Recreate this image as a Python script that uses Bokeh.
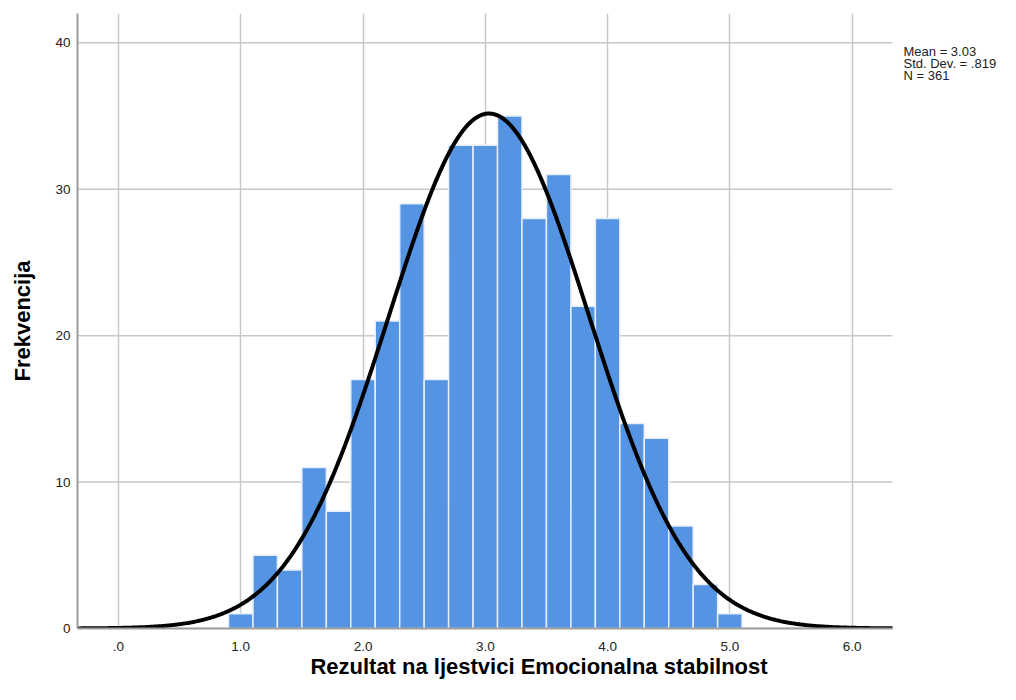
import numpy as np
from bokeh.plotting import figure
from bokeh.models import Range1d, FixedTicker
from bokeh.core.properties import value
from bokeh.embed import file_html
from bokeh.resources import INLINE

# ---- data ----
bin_centers = [1.0, 1.2, 1.4, 1.6, 1.8, 2.0, 2.2, 2.4, 2.6, 2.8, 3.0,
               3.2, 3.4, 3.6, 3.8, 4.0, 4.2, 4.4, 4.6, 4.8, 5.0]
counts = [1, 5, 4, 11, 8, 17, 21, 29, 17, 33, 33,
          35, 28, 31, 22, 28, 14, 13, 7, 3, 1]
bin_width = 0.2
mean_val = 3.03
sd_val = 0.819
n_val = 361
x_ticks = [0, 1, 2, 3, 4, 5, 6]
x_tick_labels = [".0", "1.0", "2.0", "3.0", "4.0", "5.0", "6.0"]
y_ticks = [0, 10, 20, 30, 40]
stats_lines = ["Mean = 3.03", "Std. Dev. = .819", "N = 361"]
x_title = "Rezultat na ljestvici Emocionalna stabilnost"
y_title = "Frekvencija"

FONT = "Liberation Sans"
BAR = "#5594E2"
GRID = "#c8c8c8"

# ---- layout (canvas pixels) ----
W, H = 1000, 684
FL, FT, FB = 77, 13, 628          # frame left / top / bottom
AXIS_RIGHT = 892                  # where the x axis visibly ends
x_lo, x_axis_end = -0.335, 6.33   # visible data extent of the x axis
y_lo, y_hi = 0, 42

px_per_x = (AXIS_RIGHT - FL) / (x_axis_end - x_lo)
x_frame_end = x_lo + (W - FL) / px_per_x   # frame runs to the canvas edge
px_per_y = (FB - FT) / (y_hi - y_lo)

p = figure(width=W, height=H,
           x_range=Range1d(x_lo, x_frame_end), y_range=Range1d(y_lo, y_hi),
           output_backend="svg", toolbar_location=None,
           min_border_left=FL, min_border_right=0,
           min_border_top=FT, min_border_bottom=H - FB)
p.outline_line_color = None
p.background_fill_color = "white"
p.border_fill_color = "white"

# horizontal grid lines, limited to the axis extent
p.ygrid.visible = False
p.segment(x0=[x_lo] * len(y_ticks), x1=[x_axis_end] * len(y_ticks),
          y0=y_ticks, y1=y_ticks, line_color=GRID, line_width=1.5)

# bars
lefts = [c - bin_width / 2 for c in bin_centers]
rights = [c + bin_width / 2 for c in bin_centers]
p.quad(left=lefts, right=rights, top=counts, bottom=0,
       fill_color=BAR, line_color="#e6eefa", line_width=1.5)

# fitted normal curve
xs = np.linspace(x_lo, x_axis_end, 600)
ys = n_val * bin_width / (sd_val * np.sqrt(2 * np.pi)) * np.exp(-0.5 * ((xs - mean_val) / sd_val) ** 2)
p.line(xs, ys, line_color="black", line_width=4)

# axes
p.xaxis.ticker = FixedTicker(ticks=x_ticks)
p.xaxis.major_label_overrides = {t: l for t, l in zip(x_ticks, x_tick_labels)}
p.xaxis.bounds = (x_lo, x_axis_end)
p.yaxis.ticker = FixedTicker(ticks=y_ticks)
for ax in (p.xaxis, p.yaxis):
    ax.major_tick_line_color = None
    ax.minor_tick_line_color = None
    ax.major_tick_out = 0
    ax.major_tick_in = 0
    ax.minor_tick_out = 0
    ax.minor_tick_in = 0
    ax.axis_line_color = "#9c9c9c"
    ax.axis_line_width = 2
    ax.major_label_text_font = FONT
    ax.major_label_text_font_size = "13.5px"
    ax.major_label_text_color = "#222222"
    ax.axis_label_text_font = FONT
    ax.axis_label_text_font_size = "22px"
    ax.axis_label_text_font_style = "bold"
    ax.axis_label_text_color = "black"
p.xaxis.axis_label = x_title
p.yaxis.axis_label = y_title
p.xaxis.major_label_standoff = 13
p.xaxis.axis_label_standoff = 0
p.yaxis.major_label_standoff = 7
p.yaxis.axis_label_standoff = 17

p.xgrid.grid_line_color = GRID
p.xgrid.grid_line_width = 1.5

# stats text to the right of the axis end
stats_px_left = 11      # gap right of the axis end
stats_px_top = 43.5     # first line's top (canvas px)
stats_px_step = 11.8    # line pitch
sx = [x_axis_end + stats_px_left / px_per_x] * len(stats_lines)
sy = [y_hi - (stats_px_top + i * stats_px_step - FT) / px_per_y for i in range(len(stats_lines))]
p.text(x=sx, y=sy, text=stats_lines, text_font=value(FONT),
       text_font_size=value("13px"), text_color="#222222",
       text_baseline="top", text_align="left")

open("out.html", "w").write(file_html(p, INLINE))
